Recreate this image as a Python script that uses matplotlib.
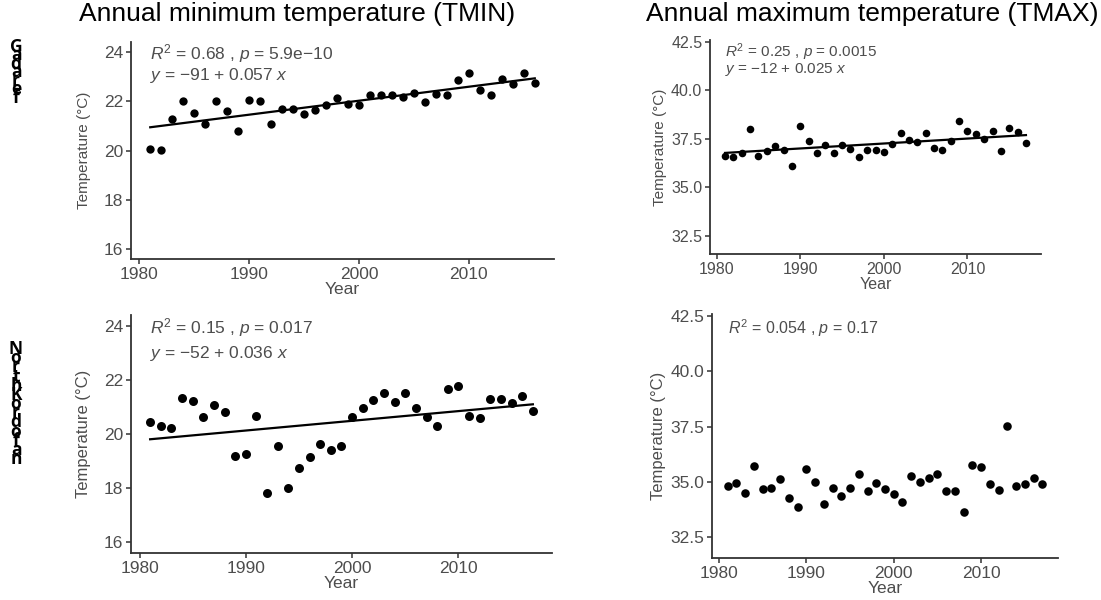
import numpy as np
import matplotlib
matplotlib.use("Agg")
import matplotlib.pyplot as plt

# --- data ---
years_tmin_gad = list(range(1981, 2017))
tmin_gad = [20.08, 20.02, 21.29, 22.0, 21.52, 21.06, 22.0, 21.59, 20.8, 22.06,
            22.0, 21.09, 21.67, 21.67, 21.46, 21.65, 21.83, 22.14, 21.87, 21.83,
            22.26, 22.26, 22.26, 22.15, 22.35, 21.95, 22.3, 22.27, 22.85, 23.15,
            22.45, 22.25, 22.9, 22.7, 23.15, 22.75]

years_tmax_gad = list(range(1981, 2018))
tmax_gad = [36.62, 36.54, 36.75, 38.0, 36.62, 36.87, 37.14, 36.92, 36.11, 38.15,
            37.38, 36.75, 37.17, 36.75, 37.17, 36.95, 36.54, 36.92, 36.92, 36.81,
            37.23, 37.82, 37.45, 37.33, 37.81, 37.0, 36.92, 37.38, 38.41, 37.9,
            37.73, 37.47, 37.9, 36.87, 38.04, 37.86, 37.3]

years_tmin_nk = list(range(1981, 2018))
tmin_nk = [20.44, 20.28, 20.24, 21.34, 21.23, 20.62, 21.06, 20.81, 19.2, 19.26,
           20.67, 17.83, 19.57, 18.02, 18.73, 19.15, 19.64, 19.4, 19.54, 20.64,
           20.95, 21.25, 21.53, 21.19, 21.53, 20.97, 20.64, 20.28, 21.68, 21.77,
           20.67, 20.58, 21.28, 21.31, 21.15, 21.4, 20.86]

years_tmax_nk = list(range(1981, 2018))
tmax_nk = [34.81, 34.93, 34.48, 35.71, 34.66, 34.73, 35.12, 34.28, 33.88, 35.6,
           35.0, 33.99, 34.73, 34.36, 34.73, 35.35, 34.6, 34.93, 34.67, 34.43,
           34.1, 35.26, 35.0, 35.18, 35.35, 34.6, 34.6, 33.65, 35.75, 35.65,
           34.88, 34.63, 37.51, 34.82, 34.9, 35.18, 34.9]

tmin_ticks = [16, 18, 20, 22, 24]
tmax_ticks = [32.5, 35.0, 37.5, 40.0, 42.5]
year_ticks = [1980, 1990, 2000, 2010]

col_titles = ["Annual minimum temperature (TMIN)", "Annual maximum temperature (TMAX)"]
row_names = ["Gadaref", "NorthKordofan"]

plt.rcParams["font.family"] = ["Liberation Sans", "DejaVu Sans"]
plt.rcParams["mathtext.fontset"] = "custom"
plt.rcParams["mathtext.rm"] = "Liberation Sans"
plt.rcParams["mathtext.it"] = "Liberation Sans:italic"

W, H = 1101, 600
fig = plt.figure(figsize=(W / 100, H / 100), dpi=100)

GREY = "#4d4d4d"


def box(l, t, r, b):
    return [l / W, 1 - b / H, (r - l) / W, (b - t) / H]


def panel(rect, yrs, vals, ylim, yticks, fmt, lines, fit=True, ms=36,
          tick_fs=12, lab_fs=11, ann_fs=12, lpad=3):
    ax = fig.add_axes(rect)
    ax.scatter(yrs, vals, s=ms, color="black", zorder=3, linewidths=0)
    if fit:
        k, b = np.polyfit(yrs, vals, 1)
        xx = np.array([yrs[0], yrs[-1]])
        ax.plot(xx, b + k * xx, color="black", lw=1.6, zorder=2)
    n = yrs[-1] - yrs[0]
    ax.set_xlim(yrs[0] - 0.05 * n, yrs[-1] + 0.05 * n)
    ax.set_ylim(*ylim)
    ax.set_xticks(year_ticks)
    ax.set_yticks(yticks)
    ax.set_yticklabels([fmt.format(v) for v in yticks])
    for s in ["top", "right"]:
        ax.spines[s].set_visible(False)
    for s in ["left", "bottom"]:
        ax.spines[s].set_color("#333333")
        ax.spines[s].set_linewidth(1.3)
    ax.tick_params(colors="#333333", labelcolor=GREY, labelsize=tick_fs,
                   length=3.5, width=1.1, pad=2)
    ax.set_xlabel("Year", color=GREY, fontsize=tick_fs, labelpad=0)
    ax.set_ylabel("Temperature (°C)", color=GREY, fontsize=lab_fs, labelpad=lpad)
    for (yv, txt) in lines:
        ax.text(yrs[0], yv, txt, color=GREY, fontsize=ann_fs, va="center", ha="left")
    return ax


panel(box(131, 42, 554, 259), years_tmin_gad, tmin_gad, (15.6, 24.4), tmin_ticks, "{:.0f}",
      [(23.93, r"$R^2$ = 0.68 , $p$ = 5.9e−10"), (23.03, r"$y$ = −91 + 0.057 $x$")],
      tick_fs=12.5, lab_fs=11, ann_fs=12.5, lpad=9)
panel(box(710, 40, 1041, 254), years_tmax_gad, tmax_gad, (31.55, 42.6), tmax_ticks, "{:.1f}",
      [(41.98, r"$R^2$ = 0.25 , $p$ = 0.0015"), (41.08, r"$y$ = −12 + 0.025 $x$")],
      ms=30, tick_fs=11.5, lab_fs=11, ann_fs=11)
panel(box(131, 315, 552, 553), years_tmin_nk, tmin_nk, (15.6, 24.4), tmin_ticks, "{:.0f}",
      [(23.94, r"$R^2$ = 0.15 , $p$ = 0.017"), (22.99, r"$y$ = −52 + 0.036 $x$")],
      ms=42, tick_fs=12.5, lab_fs=12, ann_fs=12.5, lpad=9)
panel(box(712, 314, 1058, 558), years_tmax_nk, tmax_nk, (31.55, 42.6), tmax_ticks, "{:.1f}",
      [(41.95, r"$R^2$ = 0.054 , $p$ = 0.17")], fit=False, ms=38,
      tick_fs=12.5, lab_fs=12, ann_fs=11.5)

fig.text(297 / W, 1 - 14 / H, col_titles[0], fontsize=19, ha="center", va="center", color="black")
fig.text(872 / W, 1 - 14 / H, col_titles[1], fontsize=19, ha="center", va="center", color="black")

# stacked row labels (tight, overlapping letters as in the source figure)
for name, y0, ls in zip(row_names, [38, 340], [0.32, 0.37]):
    fig.text(16 / W, 1 - y0 / H, "\n".join(name), fontsize=12.5, fontweight="bold",
             family=["Open Sans", "DejaVu Sans"], ha="center", va="top",
             linespacing=ls, multialignment="center")

fig.savefig("out.png", dpi=100)
